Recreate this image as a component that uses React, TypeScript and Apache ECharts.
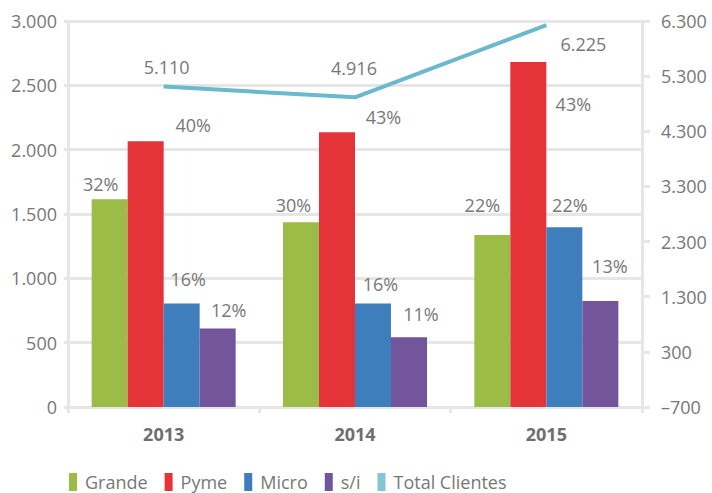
import React, { useEffect, useRef } from "react";
import * as echarts from "echarts";

const years = ["2013", "2014", "2015"];
const grande = [1615, 1436, 1337];
const pyme = [2066, 2136, 2681];
const micro = [805, 805, 1397];
const sinInfo = [611, 543, 823];
const grandePct = ["32%", "30%", "22%"];
const pymePct = ["40%", "43%", "43%"];
const microPct = ["16%", "16%", "22%"];
const sinInfoPct = ["12%", "11%", "13%"];
const totalClientes = [5110, 4916, 6225];

// label placement (layout only)
const grandeOff = [[-9, -6.5], [-7.5, -8.5], [-10, -21]];
const pymeOff = [[47.5, -7], [46.5, -6], [45, 50.5]];
const microOff = [[6.5, -15.5], [7.5, -10.5], [5.5, -13.5]];
const sinInfoOff = [[11, -9], [12, -14], [9.5, -26]];
const totalOff = [[3, -10.5], [-1, -20.5], [37, 27.5]];

const FONT = "'Open Sans', 'Noto Sans', sans-serif";
const TXT = "#777777";
const GRID = "#e6e6e6";

const fmt = (v: number) => {
  const s = Math.abs(v).toString().replace(/\B(?=(\d{3})+(?!\d))/g, ".");
  return (v < 0 ? "\u2013" : "") + s;
};

function barSeries(name: string, color: string, vals: number[], pcts: string[], offs: number[][]) {
  return {
    name,
    type: "bar",
    barGap: "0%",
    barWidth: 36,
    itemStyle: { color },
    data: vals.map((v, i) => ({
      value: v,
      label: {
        show: true,
        position: "top",
        distance: 0,
        offset: offs[i],
        formatter: () => pcts[i],
      },
    })),
    label: { fontFamily: FONT, fontSize: 18, color: TXT },
  };
}

export default function App() {
  const ref = useRef<HTMLDivElement>(null);
  useEffect(() => {
    if (!ref.current) return;
    const chart = echarts.init(ref.current, undefined, { renderer: "svg" });
    chart.setOption({
      animation: false,
      backgroundColor: "#ffffff",
      textStyle: { fontFamily: FONT },
      grid: { left: 68, right: 70, top: 21, bottom: 86, containLabel: false },
      legend: {
        left: 64,
        top: 468,
        icon: "rect",
        itemWidth: 8,
        itemHeight: 18,
        itemGap: 17,
        textStyle: { fontFamily: FONT, fontSize: 18, color: TXT, padding: [0, 0, 0, 3] },
        data: ["Grande", "Pyme", "Micro", "s/i", "Total Clientes"],
      },
      xAxis: {
        type: "category",
        data: years,
        axisLine: { show: true, lineStyle: { color: GRID, width: 3 } },
        axisTick: { show: true, length: 6, lineStyle: { color: GRID, width: 3 } },
        axisLabel: { fontFamily: FONT, fontSize: 18, fontWeight: "bold", color: "#6e6e6e", margin: 18 },
      },
      yAxis: [
        {
          type: "value",
          min: 0,
          max: 3000,
          interval: 500,
          axisLine: { show: true, lineStyle: { color: GRID, width: 3 } },
          axisTick: { show: true, length: 4, lineStyle: { color: GRID, width: 3 } },
          splitLine: { show: true, lineStyle: { color: GRID, width: 3 } },
          axisLabel: { fontFamily: FONT, fontSize: 18, color: TXT, margin: 11, formatter: fmt },
        },
        {
          type: "value",
          min: -700,
          max: 6300,
          interval: 1000,
          position: "right",
          axisLine: { show: true, lineStyle: { color: GRID, width: 3 } },
          axisTick: { show: true, length: 8, lineStyle: { color: GRID, width: 3 } },
          splitLine: { show: false },
          axisLabel: { fontFamily: FONT, fontSize: 18, color: TXT, margin: 19, formatter: fmt },
        },
      ],
      series: [
        barSeries("Grande", "#9BBC47", grande, grandePct, grandeOff),
        barSeries("Pyme", "#E5333A", pyme, pymePct, pymeOff),
        barSeries("Micro", "#3F7EBC", micro, microPct, microOff),
        barSeries("s/i", "#73559B", sinInfo, sinInfoPct, sinInfoOff),
        {
          name: "Total Clientes",
          type: "line",
          yAxisIndex: 1,
          symbol: "circle",
          symbolSize: 0,
          showSymbol: true,
          lineStyle: { color: "#6BB9CC", width: 4 },
          itemStyle: { color: "#84C4D3" },
          data: totalClientes.map((v, i) => ({
            value: v,
            label: {
              show: true,
              position: "top",
              distance: 0,
              offset: totalOff[i],
              formatter: () => fmt(v),
            },
          })),
          label: { show: true, fontFamily: FONT, fontSize: 18, color: TXT },
        },
      ],
    });
    return () => chart.dispose();
  }, []);
  return <div ref={ref} style={{ width: 712, height: 493, position: "absolute", left: 0, top: 0 }} />;
}
